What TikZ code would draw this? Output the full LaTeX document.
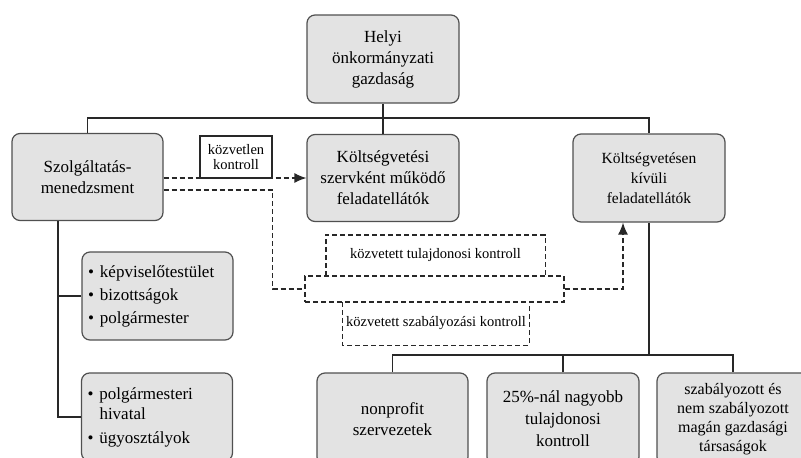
\documentclass[tikz,border=0pt]{standalone}
\usepackage{fontspec}
\setmainfont{Liberation Serif}
\usepackage{tikz}
\usetikzlibrary{arrows.meta}
\definecolor{boxgray}{RGB}{227,227,227}
\definecolor{boxline}{RGB}{80,80,80}
\definecolor{conline}{RGB}{40,40,40}

\begin{document}
\begin{tikzpicture}[x=1pt, y=-1pt,
	box/.style = {draw=boxline, fill=boxgray, rounded corners=8pt, line width=1.2pt, align=center, inner sep=2pt, font=\fontsize{17}{21}\selectfont},
	bulletbox/.style = {box, align=left, inner xsep=6pt, text width=139pt, minimum height=88pt},
	dashbox/.style = {minimum height=41pt, font=\fontsize{14.5}{17}\selectfont},
	conn/.style = {draw=conline, line width=1.2pt},
	dconn/.style = {conn, line width=1.4pt, dash pattern=on 5pt off 3pt},
	tip/.style = {-{Latex[length=12pt,width=10pt]}}]
	\useasboundingbox (0,0) rectangle (801,458);
	\newcommand{\bl}{\makebox[12pt][l]{\textbullet}}

	% upper row
	\node [box, minimum width=152pt, minimum height=88pt] (helyi) at (383,59) {Helyi\\önkormányzati\\gazdaság};
	\node [box, minimum width=151pt, minimum height=87pt] (szolg) at (87.5,177) {Szolgáltatás-\\menedzsment};
	\node [box, minimum width=152pt, minimum height=87pt] (kolts) at (383,178) {Költségvetési\\szervként működő\\feladatellátók};
	\node [box, minimum width=152pt, minimum height=88pt, font=\fontsize{15.5}{20}\selectfont] (kivul) at (649,178) {Költségvetésen\\kívüli\\feladatellátók};

	% left column
	\node [bulletbox, font=\fontsize{17}{23}\selectfont] (testulet) at (157.5,296) {\bl képviselőtestület\\\bl bizottságok\\\bl polgármester};
	\node [bulletbox, font=\fontsize{17}{20}\selectfont] (hivatal) at (157,417) {\bl polgármesteri\\\hspace*{12pt}hivatal\\[4pt]\bl ügyosztályok};

	% bottom row
	\node [box, minimum width=151pt, minimum height=92pt] (nonprofit) at (392.5,419) {nonprofit\\szervezetek};
	\node [box, minimum width=152pt, minimum height=92pt, font=\fontsize{17}{22}\selectfont] (tulaj25) at (563,419) {25\%-nál nagyobb\\tulajdonosi\\kontroll};
	\node [box, minimum width=152pt, minimum height=92pt, font=\fontsize{16}{19}\selectfont] (magan) at (733,419) {szabályozott és\\nem szabályozott\\magán gazdasági\\társaságok};

	% tree lines
	\coordinate (bus) at (383,118);
	\coordinate (bus2) at (649,355);
	\coordinate (trunk) at (58,221);
	\draw [conn] (helyi) -- (kolts);
	\draw [conn] (szolg.north) |- (bus) -| (kivul.north);
	\draw [conn] (kivul.south) -- (bus2);
	\draw [conn] (nonprofit.north) |- (bus2) -| (magan.north);
	\draw [conn] (tulaj25.north) -- (tulaj25.north |- bus2);
	\draw [conn] (trunk) |- (hivatal.west);
	\draw [conn] (trunk |- testulet.west) -- (testulet.west);

	% control boxes
	\node [dashbox, minimum width=219pt] (tulajdonosi) at (435.5,255.5) {közvetett tulajdonosi kontroll};
	\node [draw=conline, dash pattern=on 5pt off 3pt, line width=1.4pt, minimum width=259pt, minimum height=26pt] (kozvetett) at (434.5,289) {};
	\node [dashbox, minimum height=43pt] (szabalyozasi) at (436,323.5) {közvetett szabályozási kontroll};
	\draw [dconn] (tulajdonosi.south west) |- (tulajdonosi.north east) -- (tulajdonosi.south east);
	\draw [dconn] (szabalyozasi.north west) |- (szabalyozasi.south east) -- (szabalyozasi.north east);

	% dashed arrows
	\draw [dconn, tip] (szolg.east |- kolts.west) -- (kolts.west);
	\node [draw=conline, fill=white, line width=1.2pt, minimum width=72pt, minimum height=42pt, inner sep=1pt, align=center, font=\fontsize{14.5}{15}\selectfont] (kozvetlen) at (236,157) {közvetlen\\kontroll};
	\draw [dconn] ([yshift=-13pt]szolg.east) -- ++(109,0) |- (kozvetett.west);
	\draw [dconn, tip] (kozvetett.east) -| ([xshift=-26pt]kivul.south);
\end{tikzpicture}
\end{document}
